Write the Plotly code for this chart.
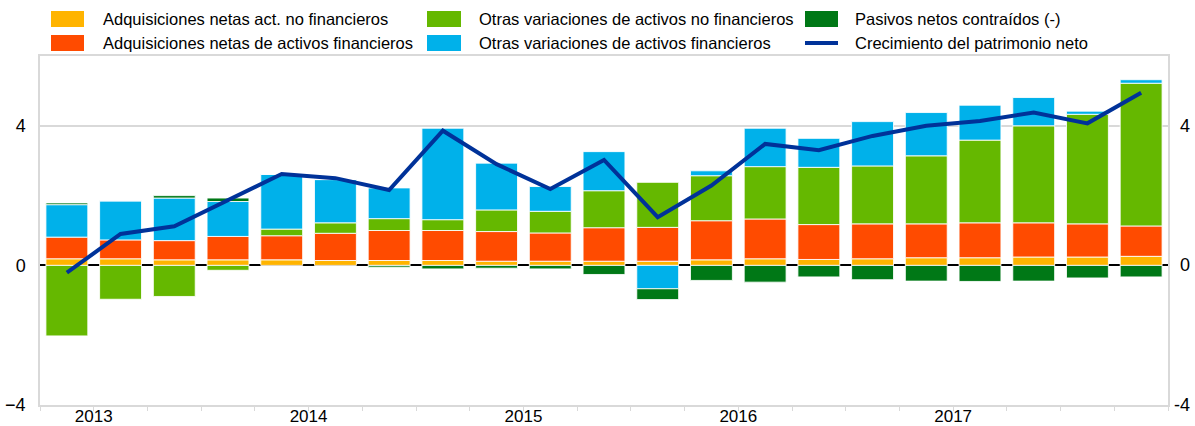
import plotly.graph_objects as go

quarters = [f"{y} T{q}" for y in range(2013, 2019) for q in range(1, 5)][:21]
x_idx = list(range(len(quarters)))

years = ["2013", "2014", "2015", "2016", "2017"]
year_pos = [0.5, 4.5, 8.5, 12.5, 16.5]

adq_no_fin = [0.19, 0.19, 0.16, 0.16, 0.16, 0.14, 0.14, 0.14, 0.12, 0.12, 0.12,
              0.12, 0.16, 0.19, 0.17, 0.19, 0.22, 0.22, 0.24, 0.24, 0.26]
adq_fin = [0.62, 0.54, 0.55, 0.67, 0.69, 0.78, 0.86, 0.86, 0.85, 0.81, 0.96,
           0.97, 1.12, 1.14, 1.00, 1.00, 0.97, 1.00, 0.98, 0.95, 0.87]
otras_no_fin = [-2.02, -0.97, -0.89, -0.14, 0.19, 0.30, 0.34, 0.31, 0.62, 0.62, 1.06,
                1.29, 1.29, 1.50, 1.64, 1.66, 1.95, 2.37, 2.78, 3.14, 4.09]
otras_fin = [0.93, 1.12, 1.22, 1.00, 1.57, 1.24, 0.88, 2.62, 1.34, 0.71, 1.12,
             -0.67, 0.14, 1.10, 0.83, 1.27, 1.24, 1.00, 0.81, 0.09, 0.10]
pasivos = [0.05, 0.0, 0.07, 0.10, 0.0, 0.0, -0.05, -0.10, -0.08, -0.10, -0.26,
           -0.31, -0.43, -0.48, -0.33, -0.41, -0.45, -0.46, -0.45, -0.36, -0.33]
patrimonio = [-0.21, 0.90, 1.12, 1.86, 2.62, 2.50, 2.16, 3.86, 2.90, 2.19, 3.02,
              1.38, 2.29, 3.48, 3.30, 3.71, 4.00, 4.14, 4.38, 4.07, 4.95]

names = ["Adquisiciones netas act. no financieros",
         "Adquisiciones netas de activos financieros",
         "Otras variaciones de activos no financieros",
         "Otras variaciones de activos financieros",
         "Pasivos netos contraídos (-)",
         "Crecimiento del patrimonio neto"]
colors = ["#FFB400", "#FF4B00", "#65B800", "#00B1EA", "#007816", "#003299"]
bar_series = [adq_no_fin, adq_fin, otras_no_fin, otras_fin, pasivos]

fig = go.Figure()
for name, vals, col in zip(names[:5], bar_series, colors[:5]):
    fig.add_trace(go.Bar(x=x_idx, y=vals, name=name, marker_color=col,
                         marker_line=dict(color="rgba(255,255,255,0.85)", width=1),
                         hovertext=quarters, showlegend=False))
fig.add_trace(go.Scatter(x=x_idx, y=patrimonio, name=names[5], mode="lines",
                         line=dict(color=colors[5], width=4),
                         hovertext=quarters, showlegend=False))

W, H = 1195, 426
L, R, T, B = 40, W - 1168, 56, H - 405
pw, ph = W - L - R, H - T - B

def px(xw):
    return (xw - L) / pw

def py(yw):
    return 1 - (yw - T) / ph

font = "Arial, Liberation Sans, sans-serif"
shapes = []
annotations = []
legend_items = [
    (0, 51, 84, 101, 19), (1, 51, 84, 101, 43),
    (2, 427, 461, 477, 19), (3, 427, 461, 477, 43),
    (4, 805, 838, 853, 19), (5, 805, 838, 853, 43),
]
for i, x0, x1, tx, yc in legend_items:
    if i < 5:
        shapes.append(dict(type="rect", xref="paper", yref="paper",
                           x0=px(x0), x1=px(x1), y0=py(yc + 8), y1=py(yc - 8),
                           fillcolor=colors[i], line=dict(width=0)))
    else:
        shapes.append(dict(type="line", xref="paper", yref="paper",
                           x0=px(x0), x1=px(x1), y0=py(yc), y1=py(yc),
                           line=dict(color=colors[i], width=4)))
    annotations.append(dict(xref="paper", yref="paper", x=px(tx), y=py(yc),
                            xanchor="left", yanchor="middle", text=names[i],
                            showarrow=False, font=dict(family=font, size=16.5, color="#000")))

for v in [4, 0, -4]:
    annotations.append(dict(xref="paper", yref="y", x=px(1192), y=v,
                            xanchor="right", yanchor="middle", text=str(v),
                            showarrow=False, font=dict(family=font, size=18, color="#000")))

fig.update_layout(
    width=W, height=H,
    margin=dict(l=L, r=R, t=T, b=B, autoexpand=False),
    paper_bgcolor="white", plot_bgcolor="white",
    barmode="relative", bargap=0.22,
    showlegend=False,
    shapes=shapes, annotations=annotations,
    font=dict(family=font, size=18, color="#000"),
    xaxis=dict(range=[-0.5, 20.5], tickmode="array", tickvals=year_pos, ticktext=years,
               ticks="", ticklabelstandoff=-5,
               minor=dict(ticks="outside", ticklen=4, tick0=0.5, dtick=1, tickcolor="#d9d9d9"),
               showline=True, linecolor="#d9d9d9", linewidth=1.5, mirror=True,
               showgrid=False, zeroline=False, tickfont=dict(size=17)),
    yaxis=dict(range=[-4, 6], tickmode="array", tickvals=[-4, 0, 4],
               showgrid=True, gridcolor="#d9d9d9", gridwidth=1.5,
               zeroline=True, zerolinecolor="#000", zerolinewidth=2,
               showline=True, linecolor="#d9d9d9", linewidth=1.5, mirror=True,
               ticks="", ticklabelstandoff=9, tickfont=dict(size=18)),
)

fig.write_html("out.html", config={"displayModeBar": False},
               post_script="document.body.style.margin='0px';document.body.style.overflow='hidden';")
